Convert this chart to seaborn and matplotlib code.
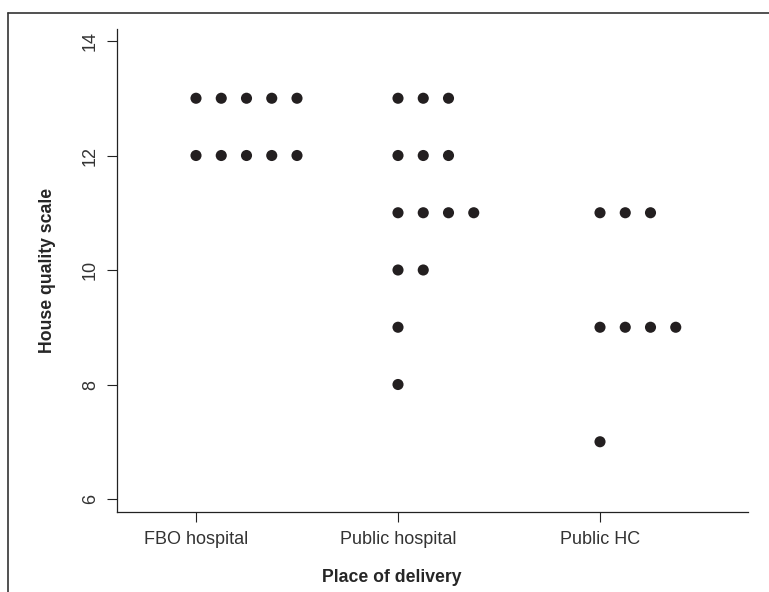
import matplotlib
matplotlib.use("Agg")
import matplotlib.pyplot as plt
import numpy as np
import pandas as pd
import seaborn as sns

# ── Data ──────────────────────────────────────────────────────────────────────
categories = ["FBO hospital", "Public hospital", "Public HC"]
fbo_hospital = [13, 13, 13, 13, 13, 12, 12, 12, 12, 12]
public_hospital = [13, 13, 13, 12, 12, 12, 11, 11, 11, 11, 10, 10, 9, 8]
public_hc = [11, 11, 11, 9, 9, 9, 9, 7]
y_ticks = [6, 8, 10, 12, 14]

STACK_STEP = 0.125  # horizontal offset between stacked points

rows = []
for code, values in enumerate([fbo_hospital, public_hospital, public_hc]):
    seen = {}
    for v in values:
        k = seen.get(v, 0)
        seen[v] = k + 1
        rows.append({"place": categories[code], "x": code + k * STACK_STEP, "score": v})
df = pd.DataFrame(rows)

# ── Plot ──────────────────────────────────────────────────────────────────────
sns.set_style("ticks")
plt.rcParams["font.family"] = ["Liberation Sans", "DejaVu Sans"]

W, H = 769, 592
fig = plt.figure(figsize=(W / 100, H / 100), dpi=100)
ax = fig.add_axes([117 / W, 1 - 512 / H, (748 - 117) / W, (512 - 29) / H])

sns.scatterplot(data=df, x="x", y="score", ax=ax, color="#231f20",
                s=64, edgecolor="none", legend=False)

# y mapping: 14 at px 41, 6 at px 499
ppu = (499 - 41) / 8
ax.set_ylim(6 - (512 - 499) / ppu, 14 + (41 - 29) / ppu)
ax.set_xlim((117 - 196) / 202, (748 - 196) / 202)

ax.set_xticks(range(len(categories)))
ax.set_xticklabels(categories, fontsize=13, color="#333333")
ax.set_yticks(y_ticks)
ax.set_yticklabels([str(t) for t in y_ticks], fontsize=13, rotation=90,
                   va="center", color="#333333")
ax.tick_params(axis="both", length=7, width=0.8, color="#222222")
ax.tick_params(axis="x", pad=7)
ax.tick_params(axis="y", pad=6)
for side in ["left", "bottom"]:
    ax.spines[side].set_linewidth(0.9)
    ax.spines[side].set_color("#222222")
sns.despine(ax=ax)

ax.set_xlabel("Place of delivery", fontsize=12.7, fontweight="bold")
ax.set_ylabel("House quality scale", fontsize=12.7, fontweight="bold")
ax.xaxis.set_label_coords((392 - 117) / 631, -(578 - 512) / 483, transform=ax.transAxes)
ax.yaxis.set_label_coords(-(117 - 48) / 631, 0.5, transform=ax.transAxes)
ax.xaxis.label.set_va("center")
ax.yaxis.label.set_va("center")

# outer frame (left and top edges visible in the original)
fig.add_artist(plt.Line2D([8 / W, 8 / W], [0, 1 - 13 / H], color="#333333", lw=1.2))
fig.add_artist(plt.Line2D([8 / W, 1], [1 - 13 / H, 1 - 13 / H], color="#333333", lw=1.2))

fig.savefig("out.png", dpi=100)
